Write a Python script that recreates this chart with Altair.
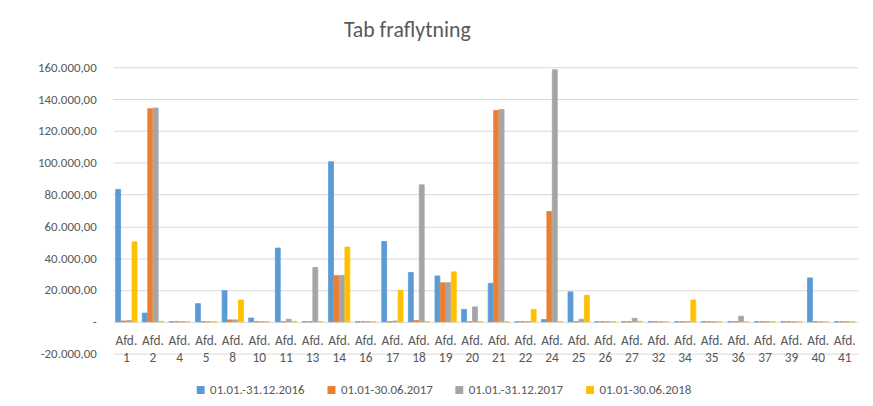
import altair as alt
import pandas as pd

departments = ["Afd. 1", "Afd. 2", "Afd. 4", "Afd. 5", "Afd. 8", "Afd. 10", "Afd. 11",
               "Afd. 13", "Afd. 14", "Afd. 16", "Afd. 17", "Afd. 18", "Afd. 19", "Afd. 20",
               "Afd. 21", "Afd. 22", "Afd. 24", "Afd. 25", "Afd. 26", "Afd. 27", "Afd. 32",
               "Afd. 34", "Afd. 35", "Afd. 36", "Afd. 37", "Afd. 39", "Afd. 40", "Afd. 41"]

series = ["01.01.-31.12.2016", "01.01-30.06.2017", "01.01.-31.12.2017", "01.01-30.06.2018"]
colors = ["#5B9BD5", "#ED7D31", "#A5A5A5", "#FFC000"]

s2016 = [83200, 5500, 0, 11400, 19600, 2400, 46400, 0, 100600, 0, 50500, 31000, 28800, 7800,
         24200, 0, 1400, 18800, 0, 0, 0, 0, 0, 0, 0, 0, 27600, 0]
h2017 = [500, 134000, 0, 0, 1200, 0, 0, 0, 29000, 0, 0, 800, 24500, 0,
         132900, 0, 69400, 0, 0, 0, 0, 0, 0, 0, 0, 0, 0, 0]
s2017 = [800, 134400, 0, 0, 1200, 0, 1600, 34200, 29200, 0, 500, 86100, 24600, 9400,
         133500, 0, 158400, 1600, 0, 2200, 0, 0, 0, 3500, 0, 0, 0, 0]
h2018 = [50300, 300, 0, 0, 13700, 0, 300, 0, 47000, 0, 19800, 0, 31400, 0,
         0, 7800, 0, 16700, 0, 300, 0, 13700, 0, 0, 0, 0, 0, 0]

y_ticks = [-20000, 0, 20000, 40000, 60000, 80000, 100000, 120000, 140000, 160000]

rows = []
for name, vals in zip(series, [s2016, h2017, s2017, h2018]):
    for d, v in zip(departments, vals):
        rows.append({"Afdeling": d, "Periode": name, "Beløb": v})
df = pd.DataFrame(rows)

FONT = "Carlito, Lato, sans-serif"
GREY = "#595959"

label_expr = (
    "datum.value == 0 ? '-\u2007' : "
    "replace(replace(replace(replace(format(datum.value, ',.2f'), ',', 'X'), '.', ','), 'X', '.'), '\u2212', '-')"
)

chart = alt.Chart(df).mark_bar(strokeWidth=0.8).encode(
    x=alt.X("Afdeling:N", sort=departments,
            scale=alt.Scale(paddingInner=0.2, paddingOuter=0.1),
            axis=alt.Axis(title=None, labelAngle=0, offset=-32, domain=False, ticks=False,
                          labelExpr="split(datum.label, ' ')", labelFontSize=13.5,
                          labelLineHeight=17, labelPadding=12, labelColor=GREY,
                          labelFont=FONT)),
    xOffset=alt.XOffset("Periode:N", sort=series, scale=alt.Scale(paddingInner=0.1)),
    y=alt.Y("Beløb:Q", scale=alt.Scale(domain=[-20000, 160000], nice=False),
            axis=alt.Axis(title=None, values=y_ticks, labelExpr=label_expr, domain=False,
                          ticks=False, labelPadding=17, labelFontSize=13, labelColor=GREY,
                          labelFont=FONT, gridColor="#D9D9D9", gridWidth=1)),
    color=alt.Color("Periode:N", sort=series,
                    scale=alt.Scale(domain=series, range=colors),
                    legend=alt.Legend(title=None, orient="none", direction="horizontal",
                                      legendX=82, legendY=319, symbolType="square",
                                      symbolSize=64, symbolStrokeWidth=0,
                                      labelFontSize=13, labelColor=GREY, labelFont=FONT,
                                      labelOffset=3, columnPadding=20)),
    stroke=alt.Stroke("Periode:N", sort=series,
                      scale=alt.Scale(domain=series, range=colors), legend=None),
).properties(
    width=752,
    height=289,
    title=alt.Title("Tab fraflytning", fontSize=22, font=FONT, color=GREY,
                    fontWeight="normal", anchor="middle", dx=-79, offset=20),
    autosize=alt.AutoSizeParams(type="none"),
    padding={"left": 106, "top": 58, "right": 7, "bottom": 50},
).configure_view(stroke=None)

chart.save("out.html", embed_options={"renderer": "svg", "actions": False})
